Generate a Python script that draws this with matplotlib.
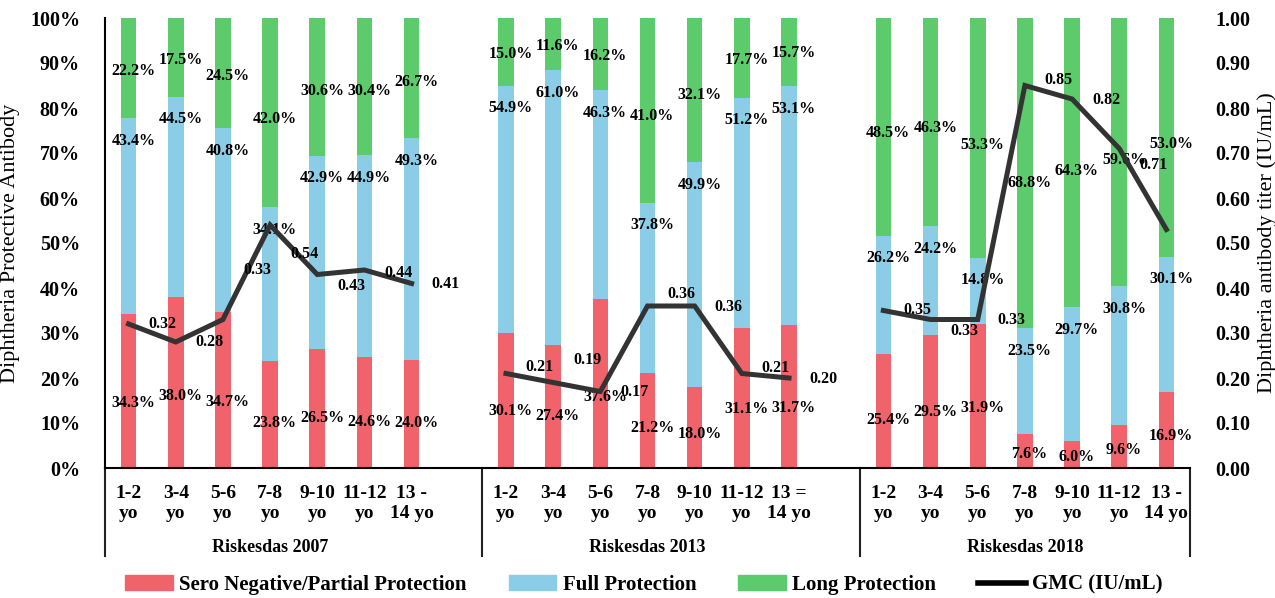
import numpy as np
import matplotlib
matplotlib.use('Agg')
from matplotlib import pyplot as plt
import matplotlib.patches as mpatches
from matplotlib.lines import Line2D

plt.rcParams['font.family'] = ['Liberation Serif', 'DejaVu Serif']
plt.rcParams['font.weight'] = 'bold'

ageLabels = ['1-2\nyo', '3-4\nyo', '5-6\nyo', '7-8\nyo', '9-10\nyo', '11-12\nyo', '13 -\n14 yo']
ageLabels2013 = ['1-2\nyo', '3-4\nyo', '5-6\nyo', '7-8\nyo', '9-10\nyo', '11-12\nyo', '13 =\n14 yo']
surveys = ['Riskesdas 2007', 'Riskesdas 2013', 'Riskesdas 2018']

# percentages per survey (rows) and age group (cols)
seroNeg = [[34.3, 38.0, 34.7, 23.8, 26.5, 24.6, 24.0],
           [30.1, 27.4, 37.6, 21.2, 18.0, 31.1, 31.7],
           [25.4, 29.5, 31.9, 7.6, 6.0, 9.6, 16.9]]
fullProt = [[43.4, 44.5, 40.8, 34.1, 42.9, 44.9, 49.3],
            [54.9, 61.0, 46.3, 37.8, 49.9, 51.2, 53.1],
            [26.2, 24.2, 14.8, 23.5, 29.7, 30.8, 30.1]]
longProt = [[22.2, 17.5, 24.5, 42.0, 30.6, 30.4, 26.7],
            [15.0, 11.6, 16.2, 41.0, 32.1, 17.7, 15.7],
            [48.5, 46.3, 53.3, 68.8, 64.3, 59.6, 53.0]]
gmc = [[0.32, 0.28, 0.33, 0.54, 0.43, 0.44, 0.41],
       [0.21, 0.19, 0.17, 0.36, 0.36, 0.21, 0.20],
       [0.35, 0.33, 0.33, 0.85, 0.82, 0.71, 0.53]]

# vertical nudge of the GMC value labels (points, + is up), as placed in the original
gmcNudge = [[0, 0, 36, -21, -8, -2, 0],
            [5, 16, 0, 9, -1, 4, -1],
            [0, -8, 0, 4, -1, -12, 3]]

redColor = '#F0636B'
blueColor = '#8BCDE6'
greenColor = '#5CCB6B'
lineColor = '#333333'

fig = plt.figure(figsize=(12.75, 5.98), dpi=100)
ax = fig.add_axes([105/1275, 1-468/598, 1085/1275, 450/598])
ax2 = ax.twinx()

allTicks = []
allTickLabels = []
for g in range(3):
    xs = g*8 + np.arange(7)
    red = np.array(seroNeg[g])
    blue = np.array(fullProt[g])
    green = np.array(longProt[g])
    ax.bar(xs, red, width=0.33, color=redColor)
    ax.bar(xs, blue, width=0.33, bottom=red, color=blueColor)
    ax.bar(xs, green, width=0.33, bottom=red+blue, color=greenColor)
    for i in range(7):
        ax.text(xs[i]+0.1, red[i]*0.42, '%.1f%%' % red[i], ha='center', va='center', fontsize=11.5)
        ax.text(xs[i]+0.1, red[i]+blue[i] - 5, '%.1f%%' % blue[i], ha='center', va='center', fontsize=11.5)
        ax.text(xs[i]+0.1, red[i]+blue[i]+green[i]*0.47, '%.1f%%' % green[i], ha='center', va='center', fontsize=11.5)
    ax2.plot(xs, gmc[g], color=lineColor, lw=3.6, solid_joinstyle='miter')
    for i in range(7):
        ax2.annotate('%.2f' % gmc[g][i], (xs[i]+0.72, gmc[g][i]), xytext=(0, gmcNudge[g][i]),
                     textcoords='offset points', ha='center', va='center', fontsize=11.5)
    allTicks.extend(xs)
    allTickLabels.extend(ageLabels2013 if g == 1 else ageLabels)
    ax.text(g*8 + 3, -0.176, surveys[g], transform=ax.get_xaxis_transform(),
            ha='center', va='center', fontsize=13)

ax.set_xlim(-0.5, 22.5)
ax.set_ylim(0, 100)
ax.set_yticks(np.arange(0, 101, 10))
ax.set_yticklabels(['%d%%' % v for v in range(0, 101, 10)], fontsize=14.5)
ax.set_xticks(allTicks)
ax.set_xticklabels(allTickLabels, fontsize=14, linespacing=1.25)
ax.tick_params(axis='both', length=0)
ax.tick_params(axis='y', pad=18)
ax.tick_params(axis='x', pad=12)
ax.set_ylabel('Diphtheria Protective Antibody', fontsize=16)
ax.yaxis.set_label_coords(-0.078, 0.5)

ax2.set_ylim(0, 1)
ax2.set_yticks(np.arange(0, 1.01, 0.1))
ax2.set_yticklabels(['%.2f' % v for v in np.arange(0, 1.01, 0.1)], fontsize=14.5)
ax2.tick_params(axis='y', length=0, pad=18)
ax2.set_ylabel('Diphtheria antibody titer (IU/mL)', fontsize=16)
ax2.yaxis.set_label_coords(1.062, 0.5)

for a in (ax, ax2):
    a.spines['top'].set_visible(False)
    a.spines['right'].set_visible(False)
ax2.spines['left'].set_visible(False)
ax2.spines['bottom'].set_visible(False)
ax.spines['left'].set_linewidth(1.5)
ax.spines['bottom'].set_linewidth(1.5)

# group separators below the axis
for sx in [-0.5, 7.5, 15.5, 22.5]:
    ax.add_line(Line2D([sx, sx], [0, -0.195], transform=ax.get_xaxis_transform(),
                       color='#222222', lw=1.5, clip_on=False))

handles = [mpatches.Patch(color=redColor, label='Sero Negative/Partial Protection'),
           mpatches.Patch(color=blueColor, label='Full Protection'),
           mpatches.Patch(color=greenColor, label='Long Protection'),
           Line2D([], [], color='black', lw=4, label='GMC (IU/mL)')]
fig.legend(handles=handles, loc='center', bbox_to_anchor=(0.505, 0.022), ncol=4,
           frameon=False, fontsize=15, handlelength=2.3, columnspacing=2.0, handletextpad=0.3)

fig.savefig('out.png', dpi=100)
